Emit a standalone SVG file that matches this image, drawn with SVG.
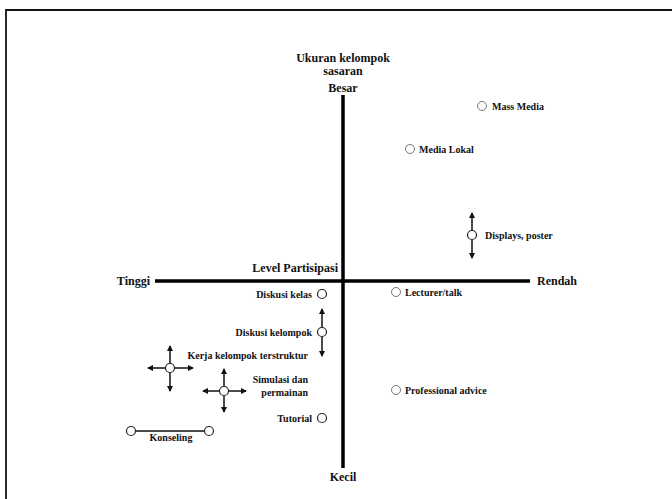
<svg xmlns="http://www.w3.org/2000/svg" width="672" height="499" viewBox="0 0 672 499">
<style>
text{font-family:"Liberation Serif","Times New Roman",serif;font-weight:bold;fill:#111;}
.lbl{font-size:10px;}
.ax{font-size:12px;}
.c{fill:#fff;stroke:#222;stroke-width:1.2;}
.cg{fill:#fff;stroke:#777;stroke-width:1;}
.arr{stroke:#111;stroke-width:1.5;fill:none;marker-end:url(#ah);}
.axis{stroke:#000;stroke-width:3.5;}
</style>
<defs>
<marker id="ah" markerUnits="userSpaceOnUse" markerWidth="7" markerHeight="7" refX="5" refY="3.5" orient="auto">
<path d="M0,0.5 L6,3.5 L0,6.5 Z" fill="#111"/>
</marker>
</defs>
<rect x="0" y="0" width="672" height="499" fill="#fff"/>
<path d="M6,520 V10 H680" fill="none" stroke="#111" stroke-width="1.8"/>
<g id="axes">
<line class="axis" x1="343" y1="95" x2="343" y2="468"/>
<line class="axis" x1="155" y1="281" x2="530" y2="281"/>
<text class="ax" x="343" y="62" text-anchor="middle">Ukuran kelompok</text>
<text class="ax" x="343" y="75" text-anchor="middle">sasaran</text>
<text class="ax" x="343" y="92" text-anchor="middle">Besar</text>
<text class="ax" x="343" y="481" text-anchor="middle">Kecil</text>
<text class="ax" x="150" y="285" text-anchor="end">Tinggi</text>
<text class="ax" x="537" y="285">Rendah</text>
<text class="ax" x="338" y="272" text-anchor="end">Level Partisipasi</text>
</g>
<g id="connectors">
<line class="arr" x1="472" y1="230" x2="472" y2="213"/>
<line class="arr" x1="472" y1="240" x2="472" y2="258"/>
<line class="arr" x1="322" y1="327" x2="322" y2="309"/>
<line class="arr" x1="322" y1="337" x2="322" y2="356"/>
<line class="arr" x1="170" y1="363" x2="170" y2="346"/>
<line class="arr" x1="170" y1="373" x2="170" y2="391"/>
<line class="arr" x1="165" y1="368" x2="148" y2="368"/>
<line class="arr" x1="175" y1="368" x2="193" y2="368"/>
<line class="arr" x1="224" y1="386" x2="224" y2="369"/>
<line class="arr" x1="224" y1="396" x2="224" y2="412"/>
<line class="arr" x1="219" y1="391" x2="203" y2="391"/>
<line class="arr" x1="229" y1="391" x2="246" y2="391"/>
<line x1="136" y1="431" x2="204" y2="431" stroke="#111" stroke-width="1.3"/>
</g>
<g id="mass-media"><circle class="cg" cx="482" cy="106" r="4.5"/><text class="lbl" x="492" y="110">Mass Media</text></g>
<g id="media-lokal"><circle class="cg" cx="410" cy="149" r="4.5"/><text class="lbl" x="419" y="153">Media Lokal</text></g>
<g id="displays"><circle class="c" cx="472" cy="235" r="4.5"/><text class="lbl" x="485" y="239">Displays, poster</text></g>
<g id="lecturer"><circle class="cg" cx="396" cy="292" r="4.5"/><text class="lbl" x="405" y="296">Lecturer/talk</text></g>
<g id="professional"><circle class="cg" cx="396" cy="390" r="4.5"/><text class="lbl" x="405" y="394">Professional advice</text></g>
<g id="diskusi-kelas"><circle class="c" cx="322" cy="294" r="4.5"/><text class="lbl" x="312" y="298" text-anchor="end">Diskusi kelas</text></g>
<g id="diskusi-kelompok"><circle class="c" cx="322" cy="332" r="4.5"/><text class="lbl" x="312" y="336" text-anchor="end">Diskusi kelompok</text></g>
<g id="kerja-kelompok"><circle class="c" cx="170" cy="368" r="4.5"/><text class="lbl" x="308" y="359" text-anchor="end">Kerja kelompok terstruktur</text></g>
<g id="simulasi"><circle class="c" cx="224" cy="391" r="4.5"/><text class="lbl" x="308" y="383" text-anchor="end">Simulasi dan</text><text class="lbl" x="308" y="396" text-anchor="end">permainan</text></g>
<g id="tutorial"><circle class="c" cx="322" cy="418" r="4.5"/><text class="lbl" x="312" y="422" text-anchor="end">Tutorial</text></g>
<g id="konseling"><circle class="c" cx="131" cy="431" r="4.5"/><circle class="c" cx="209" cy="431" r="4.5"/><text class="lbl" x="171" y="441" text-anchor="middle">Konseling</text></g>
</svg>
